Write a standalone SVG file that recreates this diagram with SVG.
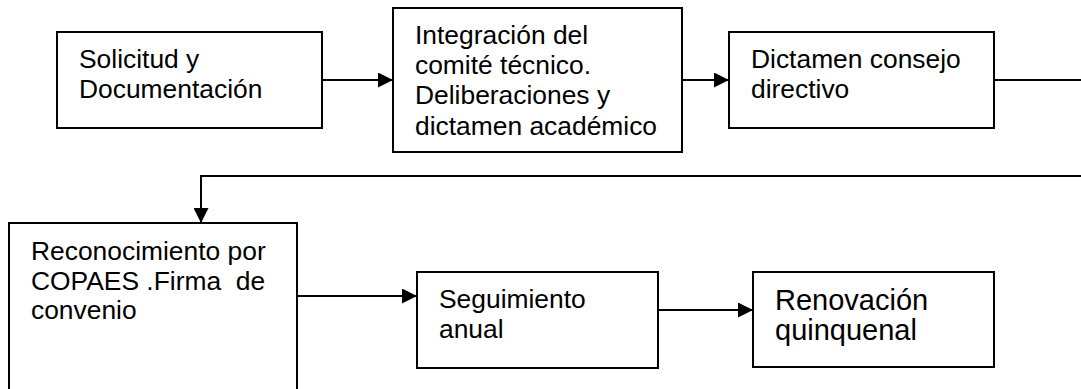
<svg xmlns="http://www.w3.org/2000/svg" width="1081" height="389" viewBox="0 0 1081 389">
<style>
.box{fill:#fff;stroke:#000;stroke-width:2}
.t{font-family:"Liberation Sans",Arial,sans-serif;font-size:26.4px;fill:#000}
.tb{font-family:"Liberation Sans",Arial,sans-serif;font-size:29px;fill:#000}
.c{fill:none;stroke:#000;stroke-width:2}
</style>
<defs>
<marker id="ah" viewBox="0 0 15 15" refX="15" refY="7.5" markerWidth="15" markerHeight="15" markerUnits="userSpaceOnUse" orient="auto">
<path d="M0,0 L15,7.5 L0,15 Z" fill="#000"/>
</marker>
</defs>
<rect width="1081" height="389" fill="#fff"/>
<g id="connectors">
<line class="c" x1="322" y1="80" x2="393" y2="80" marker-end="url(#ah)"/>
<line class="c" x1="682" y1="80" x2="729" y2="80" marker-end="url(#ah)"/>
<line class="c" x1="994" y1="80" x2="1081" y2="80"/>
<polyline class="c" points="1081,176 201,176 201,223" marker-end="url(#ah)"/>
<line class="c" x1="297" y1="296" x2="417" y2="296" marker-end="url(#ah)"/>
<line class="c" x1="658" y1="310" x2="753" y2="310" marker-end="url(#ah)"/>
</g>
<g id="n1">
<rect class="box" x="57" y="32" width="265" height="96"/>
<text class="t" x="79" y="68">Solicitud y</text>
<text class="t" x="79" y="98">Documentación</text>
</g>
<g id="n2">
<rect class="box" x="393" y="8" width="289" height="144"/>
<text class="t" x="415" y="44">Integración del</text>
<text class="t" x="415" y="74">comité técnico.</text>
<text class="t" x="415" y="104">Deliberaciones y</text>
<text class="t" x="415" y="135">dictamen académico</text>
</g>
<g id="n3">
<rect class="box" x="729" y="32" width="265" height="96"/>
<text class="t" x="751" y="68">Dictamen consejo</text>
<text class="t" x="751" y="98">directivo</text>
</g>
<g id="n4">
<rect class="box" x="9" y="223" width="288" height="180"/>
<text class="t" x="31" y="260">Reconocimiento por</text>
<text class="t" x="31" y="290" xml:space="preserve">COPAES .Firma  de</text>
<text class="t" x="31" y="319">convenio</text>
</g>
<g id="n5">
<rect class="box" x="417" y="272" width="241" height="96"/>
<text class="t" x="439" y="308">Seguimiento</text>
<text class="t" x="439" y="338">anual</text>
</g>
<g id="n6">
<rect class="box" x="753" y="272" width="241" height="95"/>
<text class="tb" x="775" y="310">Renovación</text>
<text class="tb" x="775" y="340">quinquenal</text>
</g>
</svg>
